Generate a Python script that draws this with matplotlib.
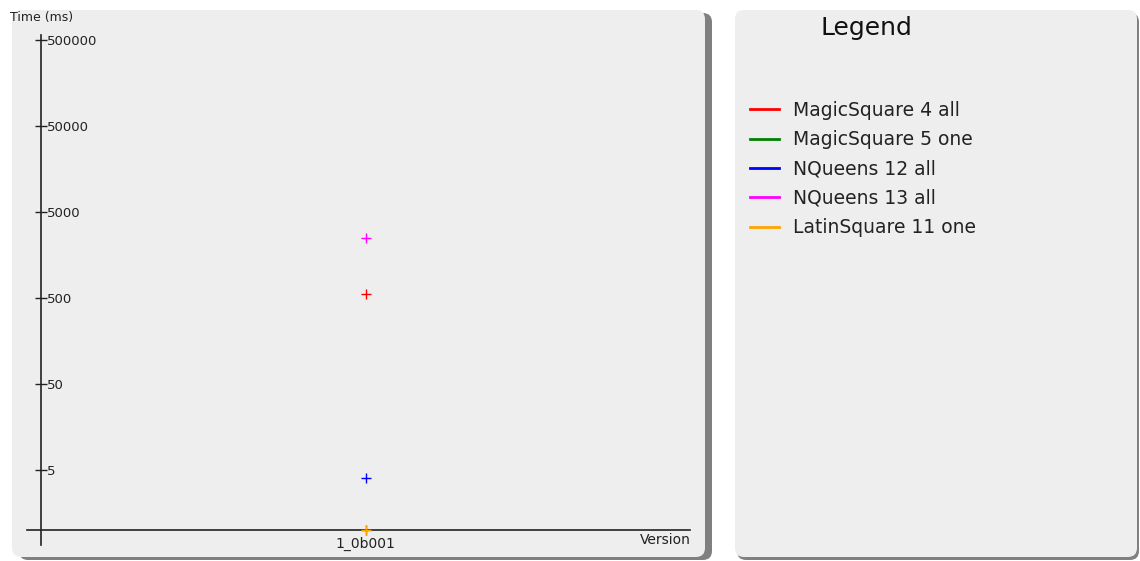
import matplotlib
matplotlib.use("Agg")
import matplotlib.pyplot as plt
import numpy as np
from matplotlib.patches import FancyBboxPatch
from matplotlib.lines import Line2D

# benchmark results, one version so far
versions = ["1_0b001"]
series_names = ["MagicSquare 4 all", "MagicSquare 5 one", "NQueens 12 all",
                "NQueens 13 all", "LatinSquare 11 one"]
series_colors = ["#ff0000", "#008000", "#0000ff", "#ff00ff", "#ffa500"]
times_ms = [
    [560],
    [1.0],
    [4.0],
    [2500],
    [1.0],
]
y_ticks = [5, 50, 500, 5000, 50000, 500000]

W, H = 1140, 561
PANEL = "#eeeeee"
SHADOW = "#808080"

fig = plt.figure(figsize=(W / 100, H / 100), dpi=100)
fig.patch.set_facecolor("white")


def px_box(x0, y0, x1, y1):
    # pixel box (top-left origin) -> figure fraction [l, b, w, h]
    return [x0 / W, 1 - y1 / H, (x1 - x0) / W, (y1 - y0) / H]


def panel(x0, y0, x1, y1, sx, sy):
    l, b, w, h = px_box(x0, y0, x1, y1)
    shadow = FancyBboxPatch((l + sx / W, b - sy / H), w, h,
                            boxstyle="round,pad=0,rounding_size=0.008",
                            transform=fig.transFigure, facecolor=SHADOW,
                            edgecolor="none", mutation_aspect=W / H, zorder=0)
    face = FancyBboxPatch((l, b), w, h,
                          boxstyle="round,pad=0,rounding_size=0.008",
                          transform=fig.transFigure, facecolor=PANEL,
                          edgecolor="none", mutation_aspect=W / H, zorder=1)
    fig.patches.extend([shadow, face])


panel(12, 10, 705, 557, 7, 3)
panel(735, 10, 1137, 557, 2, 3)

# plot area: spines are shifted inward so the axes cross like the original
ax_x0, ax_x1, ax_y0, ax_y1 = 27, 690, 35, 545
yaxis_px, xaxis_px = 41, 530
ax = fig.add_axes(px_box(ax_x0, ax_y0, ax_x1, ax_y1))
ax.set_facecolor("none")
ax.set_zorder(2)

decade_px = 86.0
ax.set_yscale("log")
lo = 10 ** (-(ax_y1 - xaxis_px) / decade_px)
hi = 10 ** (np.log10(500000) + (40 - ax_y0) / decade_px)
ax.set_ylim(lo, hi)

span = ax_x1 - yaxis_px
ax.set_xlim(-0.5 - (yaxis_px - ax_x0) / span, 0.5)

for name, color, vals in zip(series_names, series_colors, times_ms):
    ax.plot(np.arange(len(versions)), vals, linestyle="none", marker="+",
            markersize=7, markeredgewidth=1.0, color=color, label=name,
            clip_on=False, zorder=4)

for s in ["top", "right"]:
    ax.spines[s].set_visible(False)
ax.spines["left"].set_position(("axes", (yaxis_px - ax_x0) / (ax_x1 - ax_x0)))
ax.spines["bottom"].set_position(("axes", (ax_y1 - xaxis_px) / (ax_y1 - ax_y0)))
for s in ["left", "bottom"]:
    ax.spines[s].set_color("#222222")
    ax.spines[s].set_linewidth(1.2)

ax.set_yticks(y_ticks)
ax.set_yticklabels([str(t) for t in y_ticks])
ax.yaxis.set_minor_locator(matplotlib.ticker.NullLocator())
ax.tick_params(axis="y", direction="inout", length=8, width=1, color="#222222",
               pad=-8.3, labelsize=9.5, labelcolor="#222222")
for lab in ax.get_yticklabels():
    lab.set_horizontalalignment("left")

ax.set_xticks(np.arange(len(versions)))
ax.set_xticklabels(versions)
ax.tick_params(axis="x", length=0, pad=5, labelsize=10, labelcolor="#222222")

fig.text(10 / W, 1 - 17 / H, "Time (ms)", fontsize=9, color="#222222",
         ha="left", va="center")
fig.text(691 / W, 1 - 540 / H, "Version", fontsize=10, color="#222222",
         ha="right", va="center")

# legend panel
fig.text(866 / W, 1 - 28 / H, "Legend", fontsize=18, color="#111111",
         ha="center", va="center")
handles = [Line2D([], [], color=c, linewidth=2) for c in series_colors]
fig.legend(handles, series_names, loc="upper left",
           bbox_to_anchor=(750 / W, 1 - 101 / H), frameon=False,
           fontsize=13.5, handlelength=1.55, handletextpad=0.75,
           labelspacing=0.55, borderaxespad=0, borderpad=0,
           labelcolor="#222222")

fig.savefig("out.png", dpi=100, facecolor="white")
